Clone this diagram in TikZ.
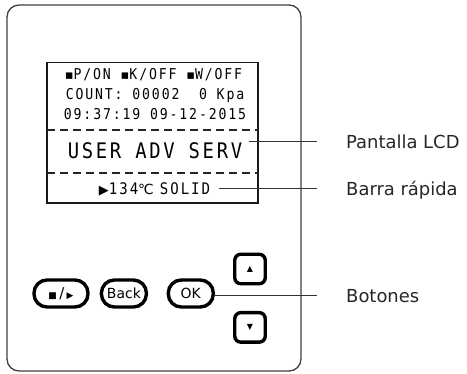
\documentclass[tikz,border=0pt]{standalone}
\usepackage{fontspec}
\setmainfont{DejaVu Sans}
\newfontfamily\lcdfont[FakeStretch=0.88, LetterSpace=12.5]{DejaVu Sans Mono}
\newfontfamily\symfont{DejaVu Sans}
\usetikzlibrary{positioning,calc}
\tikzstyle{case} = [draw=black!75, line width=1.3bp, rounded corners=12bp]
\tikzstyle{screen} = [draw=black!90, line width=1.5bp]
\tikzstyle{sep} = [draw=black!85, line width=1.5bp, dash pattern=on 8bp off 5bp]
\tikzstyle{lcdtxt} = [anchor=base, inner sep=0pt, text=black, font=\lcdfont\fontsize{15}{15}\selectfont]
\tikzstyle{key} = [draw, line width=3.4bp, rounded corners=13bp, minimum height=27bp, inner sep=0pt, font=\fontsize{14}{15}\selectfont]
\tikzstyle{arrowkey} = [draw, line width=3.4bp, rounded corners=6bp, minimum width=30.5bp, minimum height=29.5bp, inner sep=0pt, font=\symfont\fontsize{8}{8}\selectfont]
\tikzstyle{line} = [draw, line width=0.8bp, black!80]
\tikzstyle{callout} = [anchor=base west, inner sep=0pt, text=black!85, font=\fontsize{18}{20}\selectfont]

\begin{document}
\begin{tikzpicture}[x=1bp, y=-1bp]
    \useasboundingbox (0,0) rectangle (467,373);
    % Case and screen
    \draw[case] (7,5) rectangle (301,371);
    \draw[screen] (47,62.5) rectangle (258,203);
    \draw[sep] (47,130) -- (258,130);
    \draw[sep] (47,173) -- (258,173);

    % Screen text
    \node[lcdtxt] (status) at (153.5,79.3) {{\symfont\fontsize{13}{13}\selectfont ▪}P/ON {\symfont\fontsize{13}{13}\selectfont ▪}K/OFF {\symfont\fontsize{13}{13}\selectfont ▪}W/OFF};
    \node[lcdtxt] (count) at (155,99.3) {COUNT: 00002~~0 Kpa};
    \node[lcdtxt] (clock) at (155,119.3) {09:37:19 09-12-2015};
    \node[lcdtxt, font=\lcdfont\fontsize{21.5}{21.5}\selectfont] (menu) at (155,158.3) {USER ADV SERV};
    \node[lcdtxt, font=\lcdfont\fontsize{16}{16}\selectfont] (quick) at (154.5,194) {{\symfont\fontsize{13}{13}\selectfont ▶}134{\symfont\fontsize{14}{14}\selectfont ℃}\hspace{6bp}SOLID};

    % Keys
    \node[key, minimum width=54bp] (play) at (61,293.5) {{\symfont\fontsize{9}{9}\selectfont ■}\,{\fontsize{15}{15}\selectfont /}\,{\symfont\fontsize{9}{9}\selectfont ▶}};
    \node[key, minimum width=45bp, right=10bp of play] (back) {Back};
    \node[key, minimum width=45bp, right=18.5bp of back] (ok) {OK};
    \node[arrowkey] (up) at (250,269) {▲};
    \node[arrowkey, below=25.5bp of up] (down) {▼};

    % Labels
    \node[callout] (lcdlbl) at (346,148) {Pantalla LCD};
    \node[callout] (barlbl) at (346,195) {Barra rápida};
    \node[callout] (keylbl) at (346,302) {Botones};
    \coordinate (lcdin) at (249,141.5);
    \coordinate (lcdout) at (317,141.5);
    \coordinate (barin) at (219,188.5);
    \coordinate (barout) at (317,188.5);
    \coordinate (keyout) at (317,295.5);

    % Paths
    \path[line] (lcdin) -- (lcdout);
    \path[line] (barin) -- (barout);
    \path[line] (ok.east |- keyout) -- (keyout);
\end{tikzpicture}
\end{document}
